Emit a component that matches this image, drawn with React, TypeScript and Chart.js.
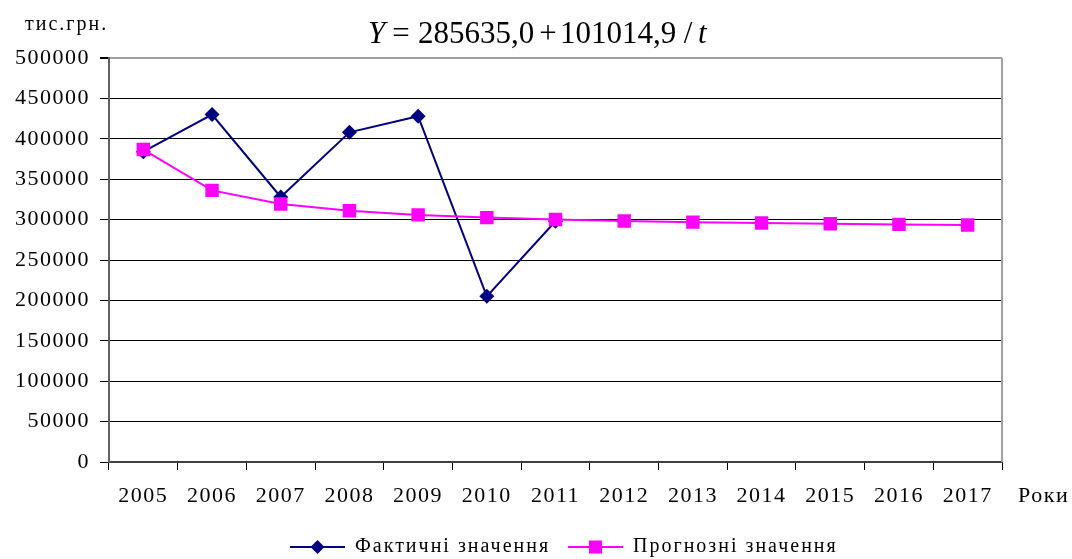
import React, { useEffect, useRef } from "react";
import { Chart, registerables } from "chart.js";

Chart.register(...registerables);

const years = ["2005", "2006", "2007", "2008", "2009", "2010", "2011", "2012", "2013", "2014", "2015", "2016", "2017"];
const actualValues = [384000, 430000, 328000, 408000, 428000, 205000, 298000, null, null, null, null, null, null];
const forecastValues = [386650, 336142, 319307, 310889, 305838, 302471, 300066, 298262, 296859, 295736, 294818, 294053, 293405];
const yTicksMin = 0;
const yTicksMax = 500000;
const yTicksStep = 50000;
const seriesNames = ["Фактичні значення", "Прогнозні значення"];
const yUnit = "тис.грн.";
const xUnit = "Роки";

const FONT = '"Liberation Serif", "Times New Roman", serif';
const NAVY = "#000080";
const MAGENTA = "#FF00FF";
const SPACING = "1.5px";

const decorPlugin = {
  id: "decor",
  beforeInit(chart: any) {
    chart.ctx.letterSpacing = SPACING;
  },
  beforeUpdate(chart: any) {
    chart.ctx.letterSpacing = SPACING;
  },
  beforeLayout(chart: any) {
    chart.ctx.letterSpacing = SPACING;
  },
  beforeDraw(chart: any) {
    chart.ctx.letterSpacing = SPACING;
  },
  afterDraw(chart: any) {
    const ctx = chart.ctx;
    const a = chart.chartArea;
    ctx.save();
    // right border
    ctx.strokeStyle = "#a0a0a0";
    ctx.lineWidth = 2;
    ctx.beginPath();
    ctx.moveTo(a.right, a.top);
    ctx.lineTo(a.right, a.bottom);
    ctx.stroke();

    // unit labels
    ctx.fillStyle = "#000";
    ctx.letterSpacing = "2px";
    ctx.font = "20px " + FONT;
    ctx.textBaseline = "middle";
    ctx.textAlign = "left";
    ctx.fillText(yUnit, 25, 25);
    ctx.letterSpacing = SPACING;
    ctx.font = "22px " + FONT;
    ctx.fillText(xUnit, 1018, 496);

    // legend
    ctx.letterSpacing = "2px";
    ctx.font = "20px " + FONT;
    const ly = 547;
    const items = [
      { x: 290, color: NAVY, style: "diamond", text: seriesNames[0] },
      { x: 568, color: MAGENTA, style: "square", text: seriesNames[1] },
    ];
    for (const it of items) {
      ctx.strokeStyle = it.color;
      ctx.lineWidth = 2;
      ctx.beginPath();
      ctx.moveTo(it.x, ly);
      ctx.lineTo(it.x + 55, ly);
      ctx.stroke();
      ctx.fillStyle = it.color;
      const cx = it.x + 27.5;
      ctx.beginPath();
      if (it.style === "diamond") {
        ctx.moveTo(cx, ly - 7);
        ctx.lineTo(cx + 7, ly);
        ctx.lineTo(cx, ly + 7);
        ctx.lineTo(cx - 7, ly);
        ctx.closePath();
      } else {
        ctx.rect(cx - 6.5, ly - 6.5, 13, 13);
      }
      ctx.fill();
      ctx.fillStyle = "#000";
      ctx.fillText(it.text, it.x + 65, ly);
    }

    // formula title
    ctx.letterSpacing = "0px";
    ctx.textBaseline = "alphabetic";
    const by = 43;
    const parts = [
      { t: "Y", x: 368, it: true, al: "left" },
      { t: "=", x: 401, it: false, al: "center" },
      { t: "285635,0", x: 418, it: false, al: "left" },
      { t: "+", x: 548, it: false, al: "center" },
      { t: "101014,9", x: 560, it: false, al: "left" },
      { t: "/", x: 688, it: false, al: "center" },
      { t: "t", x: 698, it: true, al: "left" },
    ];
    for (const p of parts) {
      ctx.font = (p.it ? "italic " : "") + "31px " + FONT;
      ctx.textAlign = p.al;
      ctx.fillText(p.t, p.x, by);
    }
    ctx.restore();
  },
};

export default function App() {
  const ref = useRef<HTMLCanvasElement>(null);
  useEffect(() => {
    document.body.style.margin = "0";
    const canvas = ref.current!;
    const chart = new Chart(canvas, {
      type: "line",
      data: {
        labels: years,
        datasets: [
          {
            label: seriesNames[0],
            data: actualValues,
            borderColor: NAVY,
            backgroundColor: NAVY,
            borderWidth: 2,
            pointStyle: "rectRot",
            pointRadius: 7.5,
            pointBorderWidth: 0,
            pointBackgroundColor: NAVY,
            tension: 0,
            order: 1,
          },
          {
            label: seriesNames[1],
            data: forecastValues,
            borderColor: MAGENTA,
            backgroundColor: MAGENTA,
            borderWidth: 2,
            pointStyle: "rect",
            pointRadius: 9.5,
            pointBorderWidth: 0,
            pointBackgroundColor: MAGENTA,
            tension: 0,
            order: 0,
          },
        ],
      },
      options: {
        animation: false,
        responsive: false,
        devicePixelRatio: 1,
        layout: { padding: { left: 0, right: 70, top: 58, bottom: 0 } },
        plugins: {
          legend: { display: false },
          title: { display: false },
          tooltip: { enabled: false },
        },
        scales: {
          x: {
            type: "category",
            offset: true,
            afterFit(scale: any) {
              scale.height = 97;
            },
            grid: {
              offset: true,
              drawOnChartArea: false,
              drawTicks: true,
              tickLength: 8,
              tickColor: "#000",
              tickWidth: 1,
            },
            border: { display: true, color: "#404040", width: 2 },
            ticks: {
              color: "#000",
              font: { family: FONT, size: 22 },
              padding: 13,
              maxRotation: 0,
              autoSkip: false,
            },
          },
          y: {
            min: yTicksMin,
            max: yTicksMax,
            afterFit(scale: any) {
              scale.width = 109;
            },
            grid: {
              color: (c: any) => (c.tick && c.tick.value === yTicksMax ? "#a0a0a0" : "#000"),
              lineWidth: (c: any) => (c.tick && c.tick.value === yTicksMax ? 2 : 1),
              tickColor: "#000",
              tickLength: 9,
            },
            border: { display: true, color: "#606060", width: 2 },
            ticks: {
              stepSize: yTicksStep,
              color: "#000",
              font: { family: FONT, size: 22 },
              padding: 10,
              callback: (v: any) => String(v),
            },
          },
        },
      },
      plugins: [decorPlugin],
    } as any);
    return () => chart.destroy();
  }, []);
  return <canvas ref={ref} width={1072} height={559} style={{ display: "block", width: 1072, height: 559 }} />;
}
